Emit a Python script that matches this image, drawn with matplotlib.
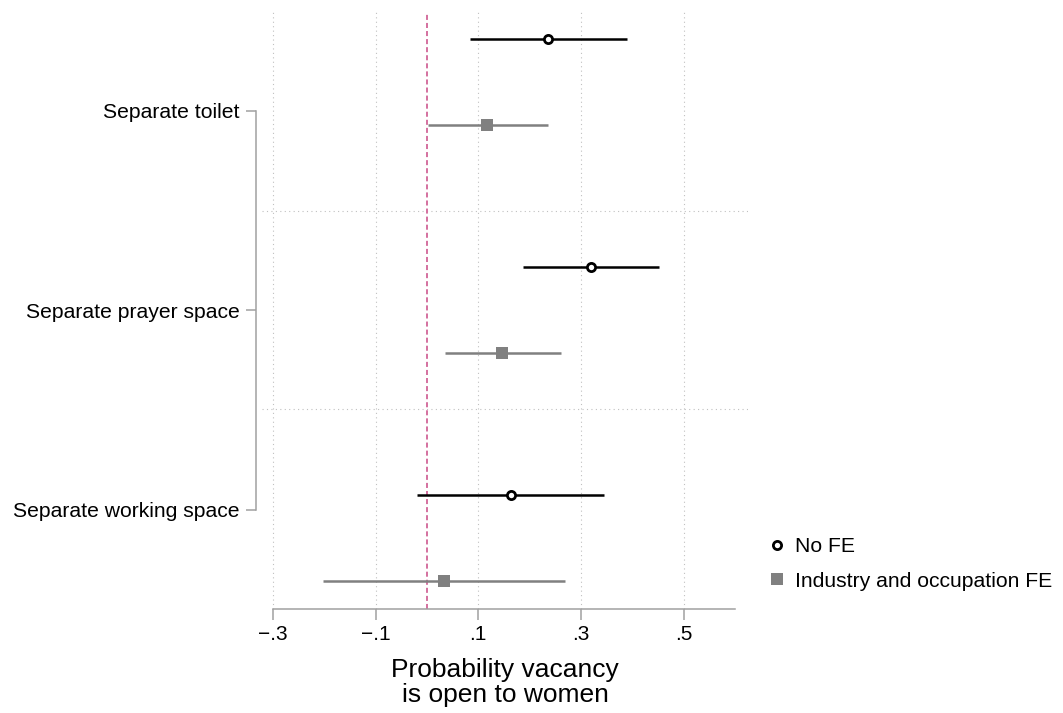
import matplotlib
matplotlib.use("Agg")
import matplotlib.pyplot as plt
from matplotlib.lines import Line2D
import numpy as np

plt.rcParams['font.family'] = ['Liberation Sans', 'DejaVu Sans']

groups = ['Separate toilet', 'Separate prayer space', 'Separate working space']
nofe_est = [0.2365, 0.3196, 0.163]
nofe_lo = [0.0841, 0.1879, -0.0185]
nofe_hi = [0.389, 0.4526, 0.345]
fe_est = [0.1178, 0.147, 0.034]
fe_lo = [0.0029, 0.0354, -0.2015]
fe_hi = [0.2353, 0.2606, 0.2696]
series_labels = ['No FE', 'Industry and occupation FE']
xticks = [-0.3, -0.1, 0.1, 0.3, 0.5]
xtick_labels = ['\u2212.3', '\u2212.1', '.1', '.3', '.5']
xlabel = 'Probability vacancy\nis open to women'

black = '#000000'
gray = '#808080'
pink = '#d4709f'
gridc = '#c0c0c0'
axisc = '#a0a0a0'

fig = plt.figure(figsize=(10.63, 7.13), dpi=100)
ax = fig.add_axes([262/1063, 1-608.5/713, (748-262)/1063, (608.5-12)/713])

centers = np.arange(len(groups), dtype=float)
off = 0.188
y_nofe = centers - off
y_fe = centers + off

ax.hlines(y_nofe, nofe_lo, nofe_hi, color=black, lw=1.8, zorder=3)
ax.plot(nofe_est, y_nofe, 'o', ms=5.9, mfc='white', mec=black, mew=2.0, ls='none', zorder=4)
ax.hlines(y_fe, fe_lo, fe_hi, color=gray, lw=1.8, zorder=3)
ax.plot(fe_est, y_fe, 's', ms=8.2, mfc=gray, mec=gray, mew=0, ls='none', zorder=4)

ax.axvline(0, color=pink, lw=1.4, ls=(0, (2.6, 1.55)), zorder=2)
for xt in xticks:
    ax.axvline(xt, color=gridc, lw=0.8, ls=(0, (1, 3)), zorder=1)
for sep in [0.566, 1.434]:
    ax.axhline(sep, color=gridc, lw=0.8, ls=(0, (1, 3)), zorder=1)

ax.set_xlim(-0.321, 0.625)
ax.set_ylim(2.309, -0.307)

for s in ['top', 'right']:
    ax.spines[s].set_visible(False)
ax.spines['left'].set_position(('outward', 4.5))
ax.spines['bottom'].set_color(axisc)
ax.spines['bottom'].set_linewidth(1.1)
ax.spines['left'].set_color(axisc)
ax.spines['left'].set_linewidth(1.1)

label_pos = [0.127, 1.0, 1.877]
ax.set_yticks(label_pos)
ax.set_yticklabels(groups)
ax.set_xticks(xticks)
ax.set_xticklabels(xtick_labels)
ax.spines['left'].set_bounds(label_pos[0], label_pos[-1])
ax.spines['bottom'].set_bounds(-0.3, 0.6)
ax.tick_params(axis='y', length=7.2, width=1.1, color=axisc, pad=4.5, labelsize=15.2)
ax.tick_params(axis='x', length=7.7, width=1.1, color=axisc, pad=4, labelsize=15)

ax.set_xlabel(xlabel, fontsize=19, labelpad=10, linespacing=1.06)

handles = [
    Line2D([], [], marker='o', ms=5.9, mfc='white', mec=black, mew=2.0, ls='none'),
    Line2D([], [], marker='s', ms=8.2, mfc=gray, mec=gray, mew=0, ls='none'),
]
fig.legend(handles, series_labels, loc='upper left', bbox_to_anchor=(769/1063, 1-537/713),
           frameon=False, fontsize=15.2, handlelength=0.8, handletextpad=0.45,
           labelspacing=0.74, borderaxespad=0, borderpad=0)

fig.savefig('out.png', dpi=100)
